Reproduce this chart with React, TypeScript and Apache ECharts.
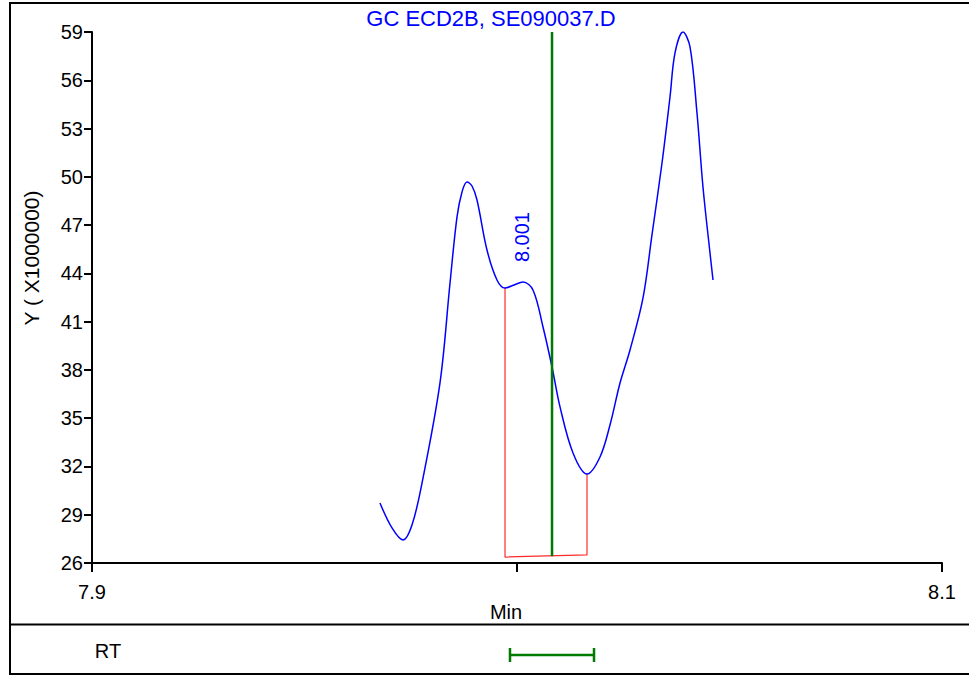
import React, { useEffect, useRef } from "react";
import * as echarts from "echarts";

// ---- data ----
const retentionTimes = [
  7.96776, 7.97059, 7.97318, 7.97529, 7.97765, 7.98188, 7.98424, 7.98588, 7.98706,
  7.98824, 7.98941, 7.99059, 7.99294, 7.99529, 7.99718, 7.99929, 8.00141, 8.00376,
  8.00612, 8.00824, 8.01012, 8.01318, 8.01647, 8.01953, 8.02188, 8.02424, 8.02659,
  8.02965, 8.03176, 8.03412, 8.036, 8.03718, 8.03906, 8.04071, 8.04235, 8.04376,
  8.04541, 8.04612,
];
const signalValues = [
  29.73, 28.18, 27.43, 28.36, 30.97, 37.19, 43.4, 47.5, 49.06,
  49.68, 49.43, 48.56, 45.45, 43.59, 43.09, 43.28, 43.46, 42.97,
  40.67, 38.18, 35.7, 32.84, 31.53, 32.59, 34.58, 37.19, 39.24,
  42.47, 46.39, 50.86, 54.96, 57.7, 59.0, 58.07, 53.97, 49.37,
  45.27, 43.59,
];
const baselineTimes = [7.99718, 7.99718, 8.01647, 8.01647];
const baselineValues = [43.09, 26.37, 26.5, 31.53];
const markerTimes = [8.00824, 8.00824];
const markerValues = [59.0, 26.42];
const peakLabelText = "8.001";
const peakLabelTime = 8.00141;
const peakLabelValue = 43.46;
const rtRangeTimes = [7.99835, 8.01812];
const xMin = 7.9;
const xMax = 8.1;
const xStep = 0.1;
const xShownLabels = ["7.9", "8.1"];
const yMin = 26;
const yMax = 59;
const yStep = 3;
const titleText = "GC ECD2B, SE090037.D";
const yName = "Y ( X1000000)";
const xName = "Min";
const rtName = "RT";

const FONT = "'Liberation Sans', Arial, sans-serif";

export default function App() {
  const ref = useRef<HTMLDivElement>(null);
  useEffect(() => {
    if (!ref.current) return;
    const chart = echarts.init(ref.current, undefined, { renderer: "svg" });
    const curve = retentionTimes.map((t, i) => [t, signalValues[i]]);
    const baseline = baselineTimes.map((t, i) => [t, baselineValues[i]]);
    const marker = markerTimes.map((t, i) => [t, markerValues[i]]);
    chart.setOption({
      animation: false,
      backgroundColor: "#ffffff",
      textStyle: { fontFamily: FONT },
      grid: [
        { left: 92, right: 27, top: 32, height: 531 },
        { left: 92, right: 27, top: 645, height: 20 },
      ],
      xAxis: [
        {
          type: "value",
          gridIndex: 0,
          min: xMin,
          max: xMax,
          interval: xStep,
          axisLine: { lineStyle: { color: "#000", width: 2 } },
          axisTick: { show: true, length: 9, lineStyle: { color: "#000", width: 2 } },
          axisLabel: {
            color: "#000",
            fontSize: 20,
            fontFamily: FONT,
            margin: 19,
            formatter: (v: number) => {
              const s = v.toFixed(1);
              return xShownLabels.indexOf(s) >= 0 ? s : "";
            },
          },
          splitLine: { show: false },
        },
        {
          type: "value",
          gridIndex: 1,
          min: xMin,
          max: xMax,
          show: false,
        },
      ],
      yAxis: [
        {
          type: "value",
          gridIndex: 0,
          min: yMin,
          max: yMax,
          interval: yStep,
          axisLine: { show: true, lineStyle: { color: "#000", width: 2 } },
          axisTick: { show: true, length: 8, lineStyle: { color: "#000", width: 2 } },
          axisLabel: { color: "#000", fontSize: 20, fontFamily: FONT, margin: 9 },
          splitLine: { show: false },
        },
        { type: "value", gridIndex: 1, min: 0, max: 1, show: false },
      ],
      series: [
        {
          type: "line",
          data: curve,
          smooth: 0.35,
          showSymbol: false,
          lineStyle: { color: "#0000ff", width: 1.5 },
          z: 3,
        },
        {
          type: "line",
          data: baseline,
          showSymbol: false,
          lineStyle: { color: "#ff2a2a", width: 1.2 },
          z: 2,
        },
        {
          type: "line",
          data: marker,
          showSymbol: false,
          lineStyle: { color: "#007a00", width: 2.5 },
          z: 4,
        },
        {
          type: "line",
          xAxisIndex: 1,
          yAxisIndex: 1,
          data: rtRangeTimes.map((t) => [t, 0.5]),
          symbol: "rect",
          symbolSize: [2.5, 14],
          showSymbol: true,
          itemStyle: { color: "#007a00" },
          lineStyle: { color: "#007a00", width: 2.5 },
        },
      ],
    });

    const p = chart.convertToPixel({ gridIndex: 0 }, [peakLabelTime, peakLabelValue]) as number[];
    chart.setOption({
      graphic: [
        {
          type: "rect",
          shape: { x: 10, y: 3, width: 980, height: 671 },
          style: { fill: "none", stroke: "#000", lineWidth: 2 },
          silent: true,
        },
        {
          type: "line",
          shape: { x1: 10, y1: 624.5, x2: 980, y2: 624.5 },
          style: { stroke: "#000", lineWidth: 2 },
          silent: true,
        },
        {
          type: "text",
          x: 491,
          y: 18,
          style: {
            text: titleText,
            fill: "#0000ff",
            font: `22px ${FONT}`,
            align: "center",
            verticalAlign: "middle",
          },
        },
        {
          type: "text",
          x: 31,
          y: 258,
          rotation: Math.PI / 2,
          style: {
            text: yName,
            fill: "#000",
            font: `21px ${FONT}`,
            align: "center",
            verticalAlign: "middle",
          },
        },
        {
          type: "text",
          x: 506,
          y: 612,
          style: {
            text: xName,
            fill: "#000",
            font: `20px ${FONT}`,
            align: "center",
            verticalAlign: "middle",
          },
        },
        {
          type: "text",
          x: 108,
          y: 651,
          style: {
            text: rtName,
            fill: "#000",
            font: `20px ${FONT}`,
            align: "center",
            verticalAlign: "middle",
          },
        },
        {
          type: "text",
          x: p[0] - 0.5,
          y: p[1] - 45,
          rotation: Math.PI / 2,
          style: {
            text: peakLabelText,
            fill: "#0000ff",
            font: `20px ${FONT}`,
            align: "center",
            verticalAlign: "middle",
          },
        },
      ],
    });
    return () => chart.dispose();
  }, []);
  return (
    <div
      ref={ref}
      style={{ position: "fixed", left: 0, top: 0, width: 969, height: 675, background: "#fff" }}
    />
  );
}
